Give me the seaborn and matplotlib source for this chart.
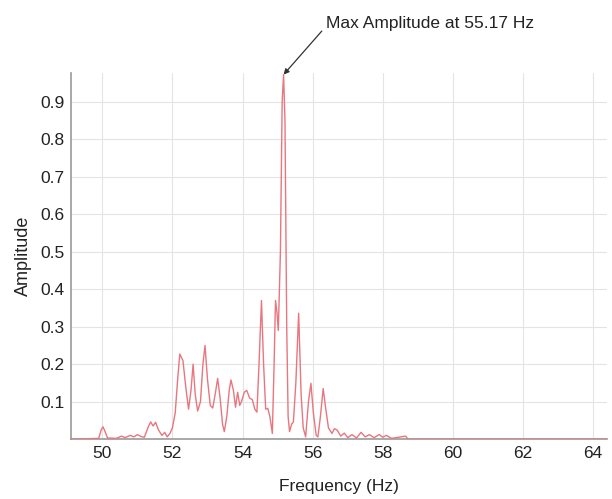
import matplotlib
matplotlib.use("Agg")
import matplotlib.pyplot as plt
import seaborn as sns
import pandas as pd

freq = [49.12, 49.90, 49.97, 50.02, 50.08, 50.15, 50.40, 50.55, 50.65, 50.80, 50.90,
        51.00, 51.10, 51.20, 51.30, 51.38, 51.45, 51.52, 51.60, 51.70, 51.78, 51.85,
        51.93, 52.00, 52.08, 52.15, 52.21, 52.30, 52.38, 52.46, 52.53, 52.59, 52.65,
        52.72, 52.80, 52.87, 52.93, 53.00, 53.08, 53.15, 53.22, 53.29, 53.36, 53.43,
        53.48, 53.55, 53.62, 53.67, 53.74, 53.80, 53.86, 53.92, 53.97, 54.05, 54.12,
        54.20, 54.28, 54.35, 54.41, 54.47, 54.54, 54.60, 54.66, 54.72, 54.78, 54.85,
        54.90, 54.94, 54.98, 55.02, 55.08, 55.13, 55.17, 55.21, 55.26, 55.30, 55.34,
        55.40, 55.45, 55.52, 55.60, 55.67, 55.73, 55.80, 55.88, 55.95, 56.02, 56.10,
        56.15, 56.22, 56.30, 56.36, 56.45, 56.55, 56.62, 56.70, 56.80, 56.90, 57.00,
        57.12, 57.25, 57.38, 57.50, 57.62, 57.75, 57.90, 58.00, 58.10, 58.25, 58.65,
        58.72, 64.40]
amp = [0.0, 0.002, 0.025, 0.033, 0.020, 0.003, 0.002, 0.008, 0.004, 0.010, 0.006,
       0.012, 0.007, 0.005, 0.030, 0.046, 0.035, 0.045, 0.025, 0.010, 0.018, 0.006,
       0.015, 0.030, 0.070, 0.160, 0.227, 0.210, 0.140, 0.080, 0.130, 0.200, 0.120,
       0.075, 0.100, 0.200, 0.250, 0.160, 0.090, 0.083, 0.120, 0.162, 0.110, 0.040,
       0.020, 0.060, 0.130, 0.158, 0.130, 0.085, 0.125, 0.090, 0.100, 0.125, 0.130,
       0.110, 0.105, 0.080, 0.072, 0.200, 0.370, 0.200, 0.080, 0.082, 0.060, 0.015,
       0.200, 0.370, 0.340, 0.290, 0.500, 0.900, 0.973, 0.850, 0.300, 0.060, 0.020,
       0.040, 0.046, 0.150, 0.336, 0.120, 0.030, 0.006, 0.100, 0.149, 0.070, 0.010,
       0.006, 0.060, 0.135, 0.090, 0.030, 0.015, 0.028, 0.024, 0.008, 0.016, 0.004,
       0.012, 0.003, 0.018, 0.006, 0.012, 0.004, 0.012, 0.005, 0.010, 0.002, 0.008,
       0.0, 0.0]
xticks = [50, 52, 54, 56, 58, 60, 62, 64]
yticks = [0.1, 0.2, 0.3, 0.4, 0.5, 0.6, 0.7, 0.8, 0.9]
peak_label = "Max Amplitude at 55.17 Hz"
peak_f, peak_a = 55.17, 0.973

sns.set_theme(style="whitegrid")
plt.rcParams['font.family'] = ['Liberation Sans', 'DejaVu Sans']

df = pd.DataFrame({"Frequency (Hz)": freq, "Amplitude": amp})

fig = plt.figure(figsize=(6.12, 4.99), dpi=100)
ax = fig.add_axes([0.1167, 0.12, 0.8755, 0.7335])

ax.grid(True, color='#e4e4e4', linewidth=0.8)
ax.set_axisbelow(True)
sns.lineplot(data=df, x="Frequency (Hz)", y="Amplitude", ax=ax,
             color='#e8767e', linewidth=1.0, estimator=None, sort=False, zorder=3)

ax.set_xlim(49.12, 64.4)
ax.set_ylim(0, 0.977)
ax.set_xticks(xticks)
ax.set_xticklabels([str(t) for t in xticks])
ax.set_yticks(yticks)
ax.set_yticklabels([f"{t:.1f}" for t in yticks])

for s in ['top', 'right']:
    ax.spines[s].set_visible(False)
for s in ['left', 'bottom']:
    ax.spines[s].set_visible(True)
    ax.spines[s].set_color('#999999')
    ax.spines[s].set_linewidth(1.2)

ax.tick_params(axis='both', direction='in', length=3, width=0.8, color='#777777',
               labelsize=12.5, labelcolor='#222222', pad=5)
ax.set_xlabel("Frequency (Hz)", fontsize=12.5, color='#222222', labelpad=13)
ax.set_ylabel("Amplitude", fontsize=13, color='#222222', labelpad=6)

ax.annotate(peak_label, xy=(peak_f, peak_a), xytext=(56.38, 1.11),
            textcoords='data', fontsize=12.5, color='#222222', ha='left', va='center',
            annotation_clip=False,
            arrowprops=dict(arrowstyle='-|>', color='#333333', lw=0.9,
                            mutation_scale=8, relpos=(0, 0.3), shrinkA=1, shrinkB=0))

fig.savefig("out.png", dpi=100)
